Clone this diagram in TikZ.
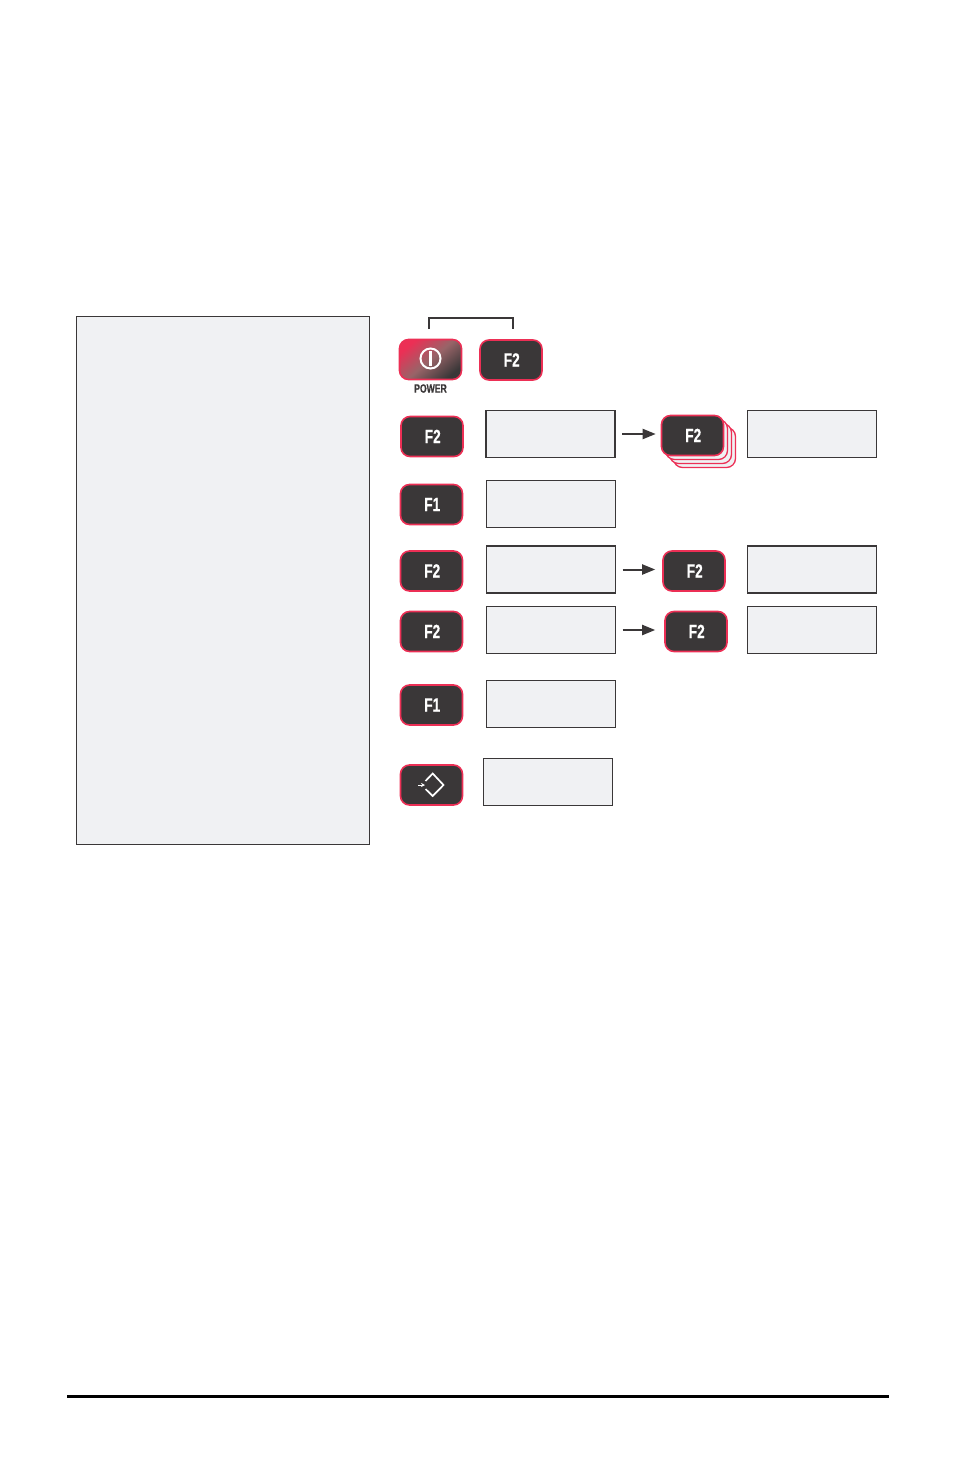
\documentclass[tikz,border=0pt]{standalone}
\usepackage{fontspec}
\usetikzlibrary{arrows.meta,positioning,calc}
\newfontfamily\keyfont[FakeStretch=.72,BoldFeatures={FakeBold=.5}]{Liberation Sans}
\definecolor{ink}{HTML}{3A3738}
\definecolor{keyred}{HTML}{EC2F55}
\definecolor{keymid}{HTML}{986468}
\definecolor{panelgray}{HTML}{F0F1F3}
\tikzset{
  every node/.style={font=\keyfont\bfseries\fontsize{19}{21}\selectfont,text=white},
  arr/.style={-{Triangle[length=13pt,width=10pt]},line width=2pt,draw=ink,shorten <=6.5pt},
  panel/.style={draw=ink,line width=1.1pt,fill=panelgray,minimum width=129pt,minimum height=47pt,inner sep=0},
  key/.style={draw=keyred,line width=1.6pt,rounded corners=9pt,fill=ink,minimum width=62pt,minimum height=40pt,inner sep=0,text height=13pt,text depth=0pt,execute at begin node=\hspace{1.5pt}},
  keyback/.style={draw=keyred,line width=1.3pt,rounded corners=9pt,fill=panelgray,minimum width=62pt,minimum height=40pt,inner sep=0},
  icon/.style={draw=white,line width=1.7pt}
}
\begin{document}
\begin{tikzpicture}[x=1pt,y=-1pt]
\path[use as bounding box] (0,0) rectangle (954,1474);
\node[panel,minimum width=293pt,minimum height=528pt] (notes) at (223,580.5) {};
% key combination
\node[key,top color=keyred,bottom color=ink,middle color=keymid,shading angle=40] (power) at (430.5,359.5) {};
\draw[icon,line width=2pt] (430.5,358.5) circle (10);
\draw[icon,line width=2.6pt] (430.5,351) -- (430.5,366);
\node[text=ink,font=\keyfont\bfseries\fontsize{12}{14}\selectfont,inner sep=0] (powerlabel) at (430.5,388.5) {POWER};
\node[key] (fkeya) at (511,360) {F2};
\coordinate (bracketl) at (429,329);
\coordinate (bracketr) at (513,329);
\draw[line width=2.4pt,draw=ink] (bracketl) -- (429,318) -| (bracketr);
% rows
\node[key] (fkeyb) at (432,436.5) {F2};
\node[panel] (boxb) at (550.5,434) {};
\node[keyback] (stackc) at (704.5,447.5) {};
\node[keyback] (stackb) at (700.5,443.5) {};
\node[keyback] (stacka) at (696.5,439.5) {};
\node[key] (fkeyc) at (692.5,435.5) {F2};
\node[panel] (boxc) at (812,434) {};
\draw[arr,shorten >=5pt] (boxb) -- (fkeyc.west |- boxb);
\node[key] (fkeyd) at (431.5,504.5) {F1};
\node[panel] (boxd) at (551,504) {};
\node[key] (fkeye) at (431.5,571) {F2};
\node[panel] (boxe) at (551,569.5) {};
\node[key] (fkeyf) at (694,571) {F2};
\node[panel] (boxf) at (812,569.5) {};
\draw[arr,shorten >=7pt] (boxe) -- (fkeyf.west |- boxe);
\node[key] (fkeyg) at (431.5,631.5) {F2};
\node[panel] (boxg) at (551,630) {};
\node[key] (fkeyh) at (696,631.5) {F2};
\node[panel] (boxh) at (812,630) {};
\draw[arr,shorten >=9pt] (boxg) -- (fkeyh.west |- boxg);
\node[key] (fkeyi) at (431.5,705) {F1};
\node[panel] (boxi) at (551,704) {};
\node[key] (fkeyj) at (431.5,785) {};
\draw[icon] (425.5,781) -- (432.7,773.5) -- (443.5,785) -- (432.7,796) -- (425.5,789);
\draw[-{Stealth[length=4pt,width=4pt]},draw=white,line width=1pt] (418,785) -- (425,785);
\node[panel] (boxj) at (548,782) {};
% page rule
\draw[line width=3pt,draw=black] (67,1396) -- (889,1396);
\end{tikzpicture}
\end{document}
